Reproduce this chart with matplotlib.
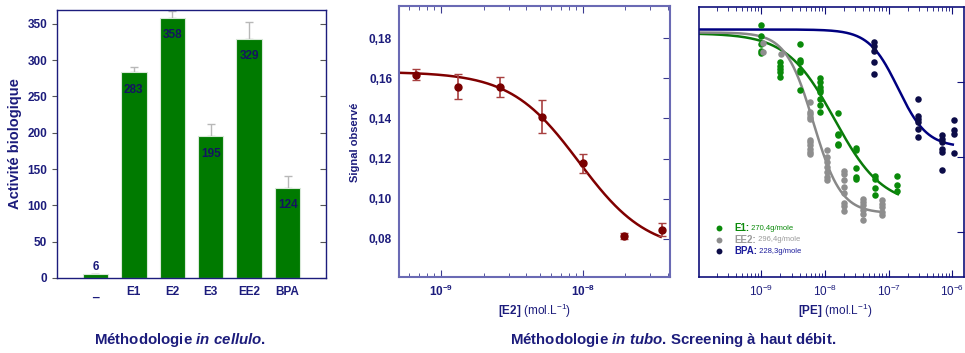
import numpy as np
import matplotlib
matplotlib.use("Agg")
import matplotlib.pyplot as plt
from matplotlib.ticker import FuncFormatter, LogLocator, NullFormatter

plt.rcParams['font.family'] = ['Liberation Sans', 'DejaVu Sans']
plt.rcParams['mathtext.fontset'] = 'custom'
plt.rcParams['mathtext.rm'] = 'Liberation Sans'
plt.rcParams['mathtext.bf'] = 'Liberation Sans:bold'
plt.rcParams['mathtext.it'] = 'Liberation Sans:bold:italic'

NAVY = '#1c1c7c'

# --- panel 1 : in cellulo ---
bar_names = ['_', 'E1', 'E2', 'E3', 'EE2', 'BPA']
bar_values = [6, 283, 358, 195, 329, 124]
bar_err_up = [0, 8, 9, 17, 23, 17]

# --- panel 2 : E2 in tubo ---
e2_conc = [6.67e-10, 1.32e-9, 2.6e-9, 5.2e-9, 1.0e-8, 1.95e-8, 3.6e-8]
e2_signal = [0.1617, 0.1557, 0.1558, 0.1408, 0.1177, 0.0813, 0.0846]
e2_err = [0.0027, 0.0062, 0.0049, 0.0082, 0.0048, 0.0015, 0.0032]
# logistic fit: top, bottom, ec50, hill
e2_fit = (0.1632, 0.0735, 9.4e-9, 1.8)
e2_fit_range = (5.06e-10, 3.55e-8)

# --- panel 3 : screening ---
e1_conc = [1e-9] * 5 + [1.94e-9] * 5 + [4e-9] * 6 + [8.3e-9] * 8 + [1.6e-8] * 5 \
    + [3.1e-8] * 5 + [6.2e-8] * 4 + [1.37e-7] * 3
e1_sig = [3.756, 3.609, 3.509, 3.416, 3.383,
          3.263, 3.216, 3.169, 3.129, 3.063,
          3.512, 3.289, 3.267, 3.156, 3.133, 2.889,
          3.059, 3.0, 2.933, 2.889, 2.867, 2.779, 2.689, 2.6,
          2.592, 2.312, 2.289, 2.178, 2.156,
          2.125, 2.099, 1.853, 1.733, 1.703,
          1.747, 1.712, 1.592, 1.489,
          1.743, 1.623, 1.543]
ee2_conc = [1.05e-9] * 2 + [2.05e-9] + [5.9e-9] * 11 + [1.06e-8] * 7 + [2.0e-8] * 8 \
    + [3.9e-8] * 6 + [7.8e-8] * 5
ee2_sig = [3.52, 3.40,
           3.37,
           2.733, 2.6, 2.578, 2.533, 2.511, 2.223, 2.2, 2.156, 2.112, 2.067, 2.045,
           2.089, 2.0, 1.933, 1.867, 1.8, 1.733, 1.689,
           1.813, 1.779, 1.699, 1.6, 1.52, 1.387, 1.343, 1.28,
           1.445, 1.40, 1.356, 1.289, 1.245, 1.156,
           1.423, 1.379, 1.333, 1.267, 1.223]
bpa_conc = [5.93e-8] * 5 + [2.86e-7] * 6 + [7.0e-7] * 6 + [1.07e-6] * 4
bpa_sig = [3.533, 3.476, 3.409, 3.267, 3.103,
           2.769, 2.547, 2.512, 2.467, 2.369, 2.267,
           2.299, 2.236, 2.2, 2.112, 2.067, 1.823,
           2.489, 2.356, 2.312, 2.053]
e1_fit = (3.65, 1.35, 1.42e-8, 1.15)
ee2_fit = (3.66, 1.25, 6.6e-9, 2.0)
bpa_fit = (3.70, 2.13, 1.41e-7, 1.9)
e1_end, ee2_end, bpa_end = 1.4e-7, 7.8e-8, 1.02e-6
legend_names = ['E1:', 'EE2:', 'BPA:']
legend_masses = ['270,4g/mole', '296,4g/mole', '228,3g/mole']


def logistic(x, p):
    top, bottom, ec50, hill = p
    return bottom + (top - bottom) / (1 + (x / ec50) ** hill)


W, H = 965, 353
fig = plt.figure(figsize=(W / 100, H / 100), dpi=100)


def px_axes(left, right, top, bottom):
    return fig.add_axes([left / W, 1 - bottom / H, (right - left) / W, (bottom - top) / H])


# ---------------- panel 1 ----------------
ax1 = px_axes(57, 326, 10, 278)
xs = np.arange(len(bar_values))
ax1.bar(xs, bar_values, width=0.66, color='#007a00', edgecolor='#d8e8d8', linewidth=0.8, zorder=2)
ax1.errorbar(xs, bar_values, yerr=[np.zeros(len(bar_err_up)), bar_err_up], fmt='none',
             ecolor='#b8b8b8', elinewidth=1, capsize=3, zorder=1)
for x, v in zip(xs, bar_values):
    if v > 50:
        ax1.text(x, v - 24, str(v), ha='center', va='center', fontsize=8.5,
                 fontweight='bold', color='#141460', zorder=3)
    else:
        ax1.text(x, v + 9, str(v), ha='center', va='center', fontsize=8.5,
                 fontweight='bold', color=NAVY, zorder=3)
ax1.set_xlim(-1, 6)
ax1.set_ylim(0, 369)
ax1.set_xticks(xs)
ax1.set_xticklabels(bar_names)
ax1.set_yticks(np.arange(0, 351, 50))
for s in ax1.spines.values():
    s.set_color(NAVY)
    s.set_linewidth(1)
ax1.tick_params(axis='x', length=0, pad=6, labelsize=8.5, labelcolor=NAVY)
ax1.tick_params(axis='y', direction='out', length=3.5, color='#555555', labelsize=8.5,
                labelcolor=NAVY, right=True)
for lab in ax1.get_xticklabels() + ax1.get_yticklabels():
    lab.set_fontweight('bold')
for t in ax1.yaxis.get_major_ticks():
    t.tick2line.set_markersize(4.5)
    t.tick2line.set_color('#222222')
    t.tick2line.set_marker(0)
fig.text(15 / W, 1 - 144 / H, 'Activité biologique', rotation=90, ha='center', va='center',
         fontsize=10.5, fontweight='bold', color=NAVY)

# ---------------- panel 2 ----------------
ax2 = px_axes(399, 670, 6, 277)
cx = np.logspace(np.log10(e2_fit_range[0]), np.log10(e2_fit_range[1]), 300)
ax2.plot(cx, logistic(cx, e2_fit), color='#800000', lw=1.8, zorder=2)
ax2.errorbar(e2_conc, e2_signal, yerr=e2_err, fmt='o', color='#7a0000', ms=5,
             ecolor='#a84040', elinewidth=1.2, capsize=3, zorder=3)
ax2.set_xscale('log')
ax2.set_xlim(5.06e-10, 4.13e-8)
ax2.set_ylim(0.061, 0.196)
ax2.set_yticks(np.arange(0.08, 0.181, 0.02))
ax2.yaxis.set_major_formatter(FuncFormatter(lambda v, p: f'{v:.2f}'.replace('.', ',')))
ax2.xaxis.set_major_locator(LogLocator(base=10))
ax2.xaxis.set_major_formatter(FuncFormatter(lambda v, p: r'$\mathbf{10^{%d}}$' % round(np.log10(v))))
ax2.xaxis.set_minor_locator(LogLocator(base=10, subs=np.arange(2, 10)))
ax2.xaxis.set_minor_formatter(NullFormatter())
for s in ax2.spines.values():
    s.set_color('#6a6ab4')
    s.set_linewidth(1.5)
ax2.tick_params(axis='x', which='both', direction='in', color='#3a3a90', top=True,
                labelsize=8.5, labelcolor=NAVY, pad=5)
ax2.tick_params(axis='x', which='major', length=5)
ax2.tick_params(axis='x', which='minor', length=3)
ax2.tick_params(axis='y', direction='in', left=False, right=True, length=5, color='#3a3a90',
                labelsize=8.5, labelcolor=NAVY, pad=5)
for lab in ax2.get_yticklabels():
    lab.set_fontweight('bold')
fig.text(355.5 / W, 1 - 142.5 / H, 'Signal observé', rotation=90, ha='center', va='center',
         fontsize=8, fontweight='bold', color=NAVY)
fig.text(535 / W, 1 - 311 / H, r'$\mathbf{[E2]}$ (mol.L$^{-1}$)', ha='center', va='center',
         fontsize=8.5, color=NAVY)

# ---------------- panel 3 ----------------
ax3 = px_axes(699, 964, 7, 277)
x0 = 1.05e-10
for fit, end, col in [(bpa_fit, bpa_end, '#000080'), (e1_fit, e1_end, '#0a7a0a'),
                      (ee2_fit, ee2_end, '#888888')]:
    cx = np.logspace(np.log10(x0), np.log10(end), 300)
    ax3.plot(cx, logistic(cx, fit), color=col, lw=1.8, zorder=2)
ax3.scatter(e1_conc, e1_sig, s=22, color='#0a8a0a', zorder=3, lw=0)
ax3.scatter(ee2_conc, ee2_sig, s=22, color='#8e8e8e', zorder=3, lw=0)
ax3.scatter(bpa_conc, bpa_sig, s=22, color='#0c0c48', zorder=3, lw=0)
ax3.set_xscale('log')
ax3.set_xlim(x0, 1.53e-6)
ax3.set_ylim(0.4, 4.0)
ax3.set_yticks([1, 2, 3])
ax3.yaxis.set_major_formatter(NullFormatter())
ax3.xaxis.set_major_locator(LogLocator(base=10))
ax3.xaxis.set_major_formatter(FuncFormatter(lambda v, p: r'$10^{%d}$' % round(np.log10(v))))
ax3.xaxis.set_minor_locator(LogLocator(base=10, subs=np.arange(2, 10)))
ax3.xaxis.set_minor_formatter(NullFormatter())
for s in ax3.spines.values():
    s.set_color('#10107a')
    s.set_linewidth(1.2)
ax3.tick_params(axis='x', which='both', direction='in', color='#10107a', top=True,
                labelsize=8.5, labelcolor=NAVY, pad=5)
ax3.tick_params(axis='x', which='major', length=5)
ax3.tick_params(axis='x', which='minor', length=3)
ax3.tick_params(axis='y', direction='in', left=False, right=True, length=5, color='#10107a')

leg_colors = ['#0a8a0a', '#8e8e8e', '#0c0c48']
leg_text_colors = ['#0a8a0a', '#9a9a9a', '#1c1c9c']
for i, (name, mass) in enumerate(zip(legend_names, legend_masses)):
    yy = 0.18 - i * 0.042
    ax3.scatter([0.075], [yy], s=18, color=leg_colors[i], transform=ax3.transAxes, lw=0)
    t1 = ax3.text(0.132, yy, name, transform=ax3.transAxes, ha='left', va='center',
                  fontsize=7, fontweight='bold', color=leg_text_colors[i])
    ax3.annotate(' ' + mass, xy=(1, 0.5), xycoords=t1, ha='left', va='center',
                 fontsize=5.5, color=leg_text_colors[i])
fig.text(835 / W, 1 - 311 / H, r'$\mathbf{[PE]}$ (mol.L$^{-1}$)', ha='center', va='center',
         fontsize=8.5, color=NAVY)

# --- bottom captions ---
fig.text(180 / W, 1 - 340 / H, r'Méthodologie $\mathit{in\ cellulo}$.', ha='center',
         va='center', fontsize=10.8, fontweight='bold', color=NAVY)
fig.text(673 / W, 1 - 340 / H, r'Méthodologie $\mathit{in\ tubo}$. Screening à haut débit.',
         ha='center', va='center', fontsize=10.8, fontweight='bold', color=NAVY)

fig.savefig('out.png', dpi=100)
